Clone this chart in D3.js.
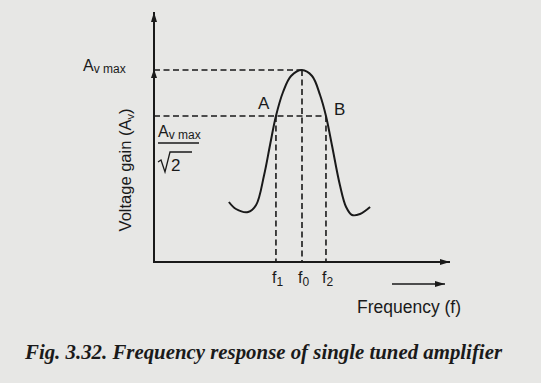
<!DOCTYPE html>
<html>
<head>
<meta charset="utf-8">
<script src="https://cdn.jsdelivr.net/npm/d3@7"></script>
<style>
  body { margin: 0; background: #e7e7e5; }
  svg { display: block; }
  text { font-family: "Liberation Sans", Arial, sans-serif; fill: #1a1a1a; }
  .caption { font-family: "Liberation Serif", "Times New Roman", serif; font-weight: bold; font-style: italic; }
</style>
</head>
<body>
<div id="viz"></div>
<script>
// response curve, arbitrary units
const freq = [2.53, 2.77, 3.18, 3.45, 3.72, 3.92, 4.12, 4.36, 4.63, 5.0, 5.34, 5.61, 5.81, 6.01, 6.28, 6.49, 6.69, 6.96, 7.3];
const gain = [2.4, 2.12, 2.0, 2.28, 3.48, 4.68, 5.84, 6.8, 7.44, 7.68, 7.44, 6.68, 5.84, 4.68, 3.08, 2.2, 1.88, 1.92, 2.2];

const markFreqs = [4.12, 5.0, 5.81];
const markLabels = ['1', '0', '2'];
const gainMax = 7.68;
const gainHalf = 5.84;

const width = 541;
const height = 383;
const ink = '#1a1a1a';

const svg = d3.select('#viz')
  .append('svg')
  .attr('width', width)
  .attr('height', height);

const x = d3.scaleLinear().domain([0, 10]).range([154, 450]);
const y = d3.scaleLinear().domain([0, 10]).range([262, 12]);

// arrow markers
const defs = svg.append('defs');
defs.append('marker')
  .attr('id', 'arrow')
  .attr('viewBox', '0 0 10 6')
  .attr('refX', 10).attr('refY', 3)
  .attr('markerWidth', 10).attr('markerHeight', 6)
  .attr('markerUnits', 'userSpaceOnUse')
  .attr('orient', 'auto')
  .append('path')
  .attr('d', 'M0,0 L10,3 L0,6 Z')
  .attr('fill', ink);

// axes
svg.append('line')
  .attr('x1', x(0)).attr('y1', y(0))
  .attr('x2', x(0)).attr('y2', y(10))
  .attr('stroke', ink).attr('stroke-width', 2)
  .attr('marker-end', 'url(#arrow)');
svg.append('line')
  .attr('x1', x(0) - 1).attr('y1', y(0))
  .attr('x2', x(10)).attr('y2', y(0))
  .attr('stroke', ink).attr('stroke-width', 2)
  .attr('marker-end', 'url(#arrow)');

// little arrowhead on the y axis at Av max
svg.append('path')
  .attr('d', `M${x(0) - 3},${y(gainMax) + 8} L${x(0)},${y(gainMax) - 1} L${x(0) + 3},${y(gainMax) + 8} Z`)
  .attr('fill', ink);

// dashed guides
const dash = '6,3.5';
svg.append('line')
  .attr('x1', x(0)).attr('y1', y(gainMax))
  .attr('x2', x(markFreqs[1])).attr('y2', y(gainMax))
  .attr('stroke', ink).attr('stroke-width', 1.6).attr('stroke-dasharray', dash);
svg.append('line')
  .attr('x1', x(0)).attr('y1', y(gainHalf))
  .attr('x2', x(markFreqs[2])).attr('y2', y(gainHalf))
  .attr('stroke', ink).attr('stroke-width', 1.6).attr('stroke-dasharray', dash);

svg.selectAll('line.drop')
  .data(markFreqs)
  .enter()
  .append('line')
  .classed('drop', true)
  .attr('x1', d => x(d)).attr('x2', d => x(d))
  .attr('y1', (d, i) => i === 1 ? y(gainMax) : y(gainHalf))
  .attr('y2', y(0))
  .attr('stroke', ink).attr('stroke-width', 1.6).attr('stroke-dasharray', dash);

// curve
const line = d3.line()
  .x(d => x(d[0]))
  .y(d => y(d[1]))
  .curve(d3.curveCatmullRom.alpha(0.5));
svg.append('path')
  .datum(d3.zip(freq, gain))
  .attr('d', line)
  .attr('fill', 'none')
  .attr('stroke', ink)
  .attr('stroke-width', 2);

// point labels
svg.append('text').attr('x', x(markFreqs[0]) - 18).attr('y', y(gainHalf) - 7)
  .attr('font-size', 17).text('A');
svg.append('text').attr('x', x(markFreqs[2]) + 8).attr('y', y(gainHalf) - 1)
  .attr('font-size', 17).text('B');

// frequency labels
const fl = svg.selectAll('text.flabel')
  .data(markFreqs)
  .enter()
  .append('text')
  .classed('flabel', true)
  .attr('x', d => x(d) - 4)
  .attr('y', 283)
  .attr('font-size', 16);
fl.append('tspan').text('f');
fl.append('tspan').attr('font-size', 12).attr('dy', 3).text((d, i) => markLabels[i]);

// Av max
const avm = svg.append('text').attr('x', 83).attr('y', 71).attr('font-size', 16);
avm.append('tspan').text('A');
avm.append('tspan').attr('font-size', 12).attr('dy', 2).text('v max');

// Av max / sqrt 2
const avf = svg.append('text').attr('x', 158).attr('y', 137).attr('font-size', 16);
avf.append('tspan').text('A');
avf.append('tspan').attr('font-size', 12).attr('dy', 2).text('v max');
svg.append('line')
  .attr('x1', 158).attr('x2', 199).attr('y1', 143).attr('y2', 143)
  .attr('stroke', ink).attr('stroke-width', 1.4);
svg.append('path')
  .attr('d', 'M158,162 L161,160 L165,172 L170,152 L192,152')
  .attr('fill', 'none').attr('stroke', ink).attr('stroke-width', 1.3);
svg.append('text').attr('x', 171).attr('y', 171).attr('font-size', 17).text('2');

// y axis title
const yt = svg.append('text')
  .attr('transform', 'translate(131,170) rotate(-90)')
  .attr('text-anchor', 'middle')
  .attr('font-size', 16.5);
yt.append('tspan').text('Voltage gain (A');
yt.append('tspan').attr('font-size', 11).attr('dy', 3).text('v');
yt.append('tspan').attr('dy', -3).text(')');

// x axis title and arrow
svg.append('line')
  .attr('x1', 392).attr('x2', 445).attr('y1', 284).attr('y2', 284)
  .attr('stroke', ink).attr('stroke-width', 1.6)
  .attr('marker-end', 'url(#arrow)');
svg.append('text').attr('x', 357).attr('y', 313).attr('font-size', 17.5).text('Frequency (f)');

// caption
svg.append('text')
  .classed('caption', true)
  .attr('x', 25).attr('y', 359)
  .attr('font-size', 20.5)
  .attr('textLength', 477)
  .attr('lengthAdjust', 'spacingAndGlyphs')
  .text('Fig. 3.32. Frequency response of single tuned amplifier');
</script>
</body>
</html>
